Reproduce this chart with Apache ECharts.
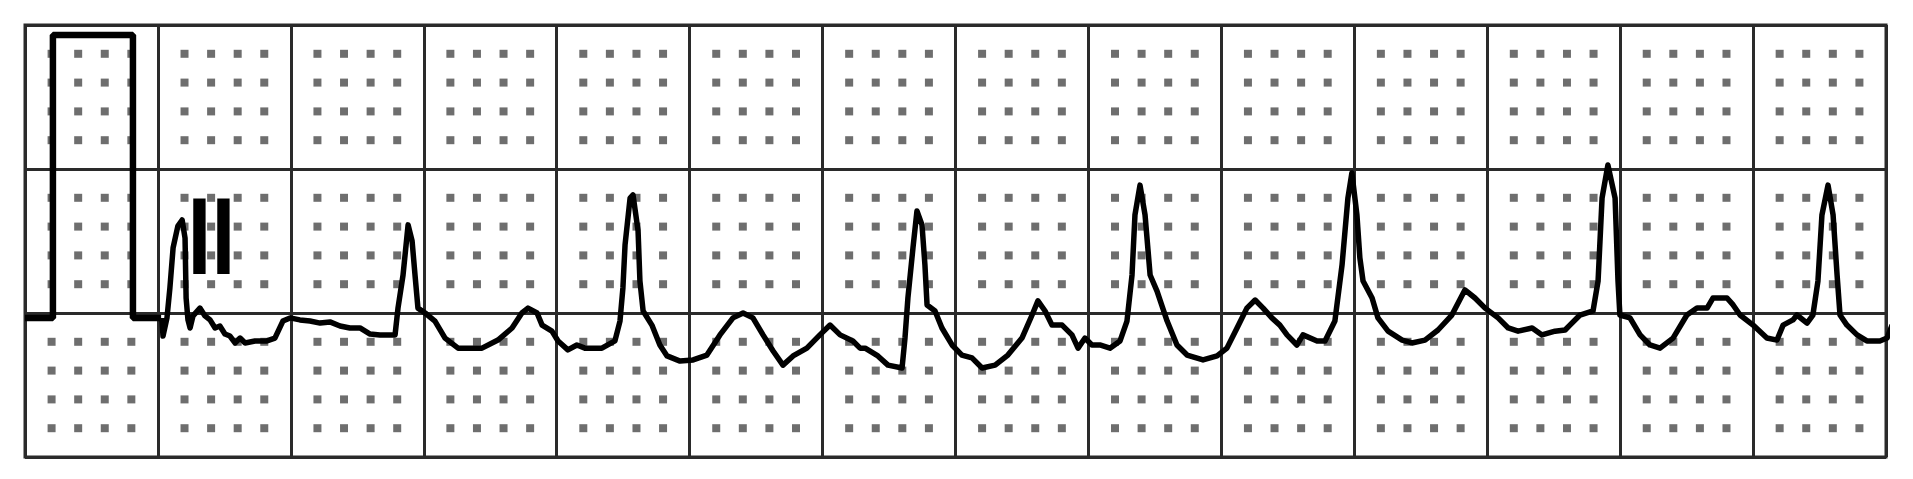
<!DOCTYPE html>
<html style="height: 100%">
<head>
    <meta charset="utf-8">
</head>
<body style="height: 100%; margin: 0; background: #fff">
<div id="container" style="width: 1913px; height: 479px"></div>

<script type="text/javascript" src="https://cdn.jsdelivr.net/npm/echarts@6/dist/echarts.min.js"></script>

<script type="text/javascript">
    // ECG strip, lead II. units are mm on the paper: x 1mm = 40ms, y 10mm = 1mV
    // baseline is y = 0

    // 1 mV calibration pulse at the start
    var calPulse = [[0, -0.17], [1.05, -0.17], [1.05, 9.65], [4.06, 9.65], [4.06, -0.17], [5.12, -0.17]];

    // the trace
    var trace = [
        [5.15, -0.17], [5.19, -0.8], [5.34, -0.17], [5.45, 0.87], [5.57, 2.26], [5.75, 3.02], [5.91, 3.23],
        [6.02, 2.6], [6.06, 0.52], [6.13, -0.24], [6.21, -0.52], [6.32, -0.1], [6.58, 0.17], [6.77, -0.1],
        [6.96, -0.24], [7.15, -0.52], [7.33, -0.45], [7.52, -0.73], [7.71, -0.8], [7.9, -1.04], [8.09, -0.87],
        [8.28, -1.04], [8.65, -0.97], [9.1, -0.97], [9.4, -0.87], [9.7, -0.28], [9.97, -0.17], [10.34, -0.24],
        [10.72, -0.28], [11.1, -0.35], [11.47, -0.31], [11.85, -0.45], [12.22, -0.52], [12.6, -0.52],
        [12.98, -0.73], [13.35, -0.76], [13.73, -0.76], [13.92, -0.76],
        [14.03, 0.17], [14.22, 1.32], [14.41, 3.06], [14.56, 2.5], [14.67, 1.32], [14.78, 0.17], [15.05, 0],
        [15.42, -0.28], [15.8, -0.87], [16.29, -1.22], [17.19, -1.22], [17.79, -0.94], [18.32, -0.52],
        [18.69, 0], [18.92, 0.17], [19.26, 0], [19.45, -0.42], [19.82, -0.63], [20.05, -0.97], [20.42, -1.28],
        [20.76, -1.11], [21.06, -1.22], [21.7, -1.22], [22.19, -0.97], [22.38, -0.28], [22.49, 0.87],
        [22.57, 2.36], [22.76, 3.99], [22.87, 4.1], [23.06, 2.85], [23.13, 1.11], [23.25, 0.07], [23.58, -0.42],
        [23.88, -1.11], [24.15, -1.49], [24.64, -1.67], [25.13, -1.63], [25.65, -1.46], [26.14, -0.76],
        [26.63, -0.17], [27.01, 0], [27.38, -0.17], [27.76, -0.76], [28.14, -1.32], [28.51, -1.81],
        [28.89, -1.49], [29.41, -1.22], [29.9, -0.76], [30.28, -0.42], [30.66, -0.76], [31.14, -0.97],
        [31.41, -1.22], [31.6, -1.22], [32.08, -1.49], [32.46, -1.81], [32.99, -1.91], [33.1, -0.87],
        [33.21, 0.52], [33.4, 2.26], [33.55, 3.54], [33.74, 3.06], [33.85, 1.67], [33.93, 0.28], [34.23, 0.07],
        [34.49, -0.52], [34.87, -1.11], [35.24, -1.46], [35.62, -1.56], [36.0, -1.91], [36.49, -1.81],
        [36.97, -1.46], [37.5, -0.87], [37.88, -0.07], [38.1, 0.42], [38.37, 0.07], [38.63, -0.42],
        [39.01, -0.42], [39.38, -0.76], [39.61, -1.22], [39.87, -0.87], [40.13, -1.11],
        [40.43, -1.11], [40.81, -1.22], [41.19, -0.97], [41.45, -0.28], [41.64, 1.32], [41.75, 3.4],
        [41.94, 4.44], [42.13, 3.4], [42.32, 1.32], [42.58, 0.76], [42.96, -0.28], [43.33, -1.11],
        [43.71, -1.46], [44.31, -1.63], [44.84, -1.49], [45.21, -1.22], [45.59, -0.52], [45.96, 0.17],
        [46.27, 0.45], [46.57, 0.17], [46.9, -0.17], [47.2, -0.42], [47.47, -0.76], [47.84, -1.11],
        [48.07, -0.76], [48.6, -0.97], [48.9, -0.97],
        [49.27, -0.28], [49.54, 1.67], [49.76, 3.99], [49.91, 4.86], [50.1, 3.4], [50.21, 1.91], [50.33, 1.11],
        [50.67, 0.52], [50.89, -0.17], [51.27, -0.63], [51.8, -0.94], [52.17, -1.04], [52.66, -0.94],
        [53.15, -0.59], [53.67, -0.07], [54.16, 0.8], [54.54, 0.52], [54.92, 0.17], [55.41, -0.17],
        [55.79, -0.52], [56.16, -0.63], [56.69, -0.52], [57.06, -0.76], [57.55, -0.63], [57.93, -0.59],
        [58.11, -0.42], [58.49, -0.07], [58.98, 0.07], [59.17, 1.11], [59.32, 3.99], [59.54, 5.14],
        [59.81, 3.99], [59.92, 1.11], [59.99, -0.07], [60.37, -0.17], [60.75, -0.76], [61.12, -1.11],
        [61.5, -1.22], [61.99, -0.87], [62.51, -0.07], [62.89, 0.17], [63.27, 0.17], [63.49, 0.52],
        [64.02, 0.52], [64.25, 0.28], [64.51, -0.07], [65.0, -0.42], [65.52, -0.87], [65.9, -0.94],
        [66.13, -0.42], [66.5, -0.24],
        [66.65, -0.07], [67.03, -0.35], [67.25, -0.07], [67.44, 1.11], [67.59, 3.4], [67.82, 4.44],
        [68.01, 3.4], [68.16, 1.32], [68.27, -0.07], [68.53, -0.42], [68.91, -0.76], [69.28, -0.97],
        [69.77, -0.97], [70.04, -0.87], [70.23, -0.42]
    ];

    var leadName = 'II';

    // paper: 14 big boxes wide, 3 high, dots on every 1mm crossing
    var paperX = [0, 70];
    var paperY = [-5, 10];

    var dots = [];
    for (var x = paperX[0] + 1; x < paperX[1]; x++) {
        if (x % 5 === 0) continue;
        for (var y = paperY[0] + 1; y < paperY[1]; y++) {
            if (y % 5 === 0) continue;
            dots.push([x, y]);
        }
    }

    var dom = document.getElementById('container');
    var myChart = echarts.init(dom, null, {renderer: 'canvas'});

    var gridLine = {show: true, lineStyle: {color: '#2a2a2a', width: 3}};

    var option = {
        animation: false,
        backgroundColor: '#fff',
        grid: {
            left: 25, right: 27, top: 25, bottom: 22,
            show: true, borderColor: '#2a2a2a', borderWidth: 3
        },
        xAxis: {
            type: 'value', min: paperX[0], max: paperX[1], interval: 5,
            axisLine: {show: false}, axisTick: {show: false}, axisLabel: {show: false},
            splitLine: gridLine
        },
        yAxis: {
            type: 'value', min: paperY[0], max: paperY[1], interval: 5,
            axisLine: {show: false}, axisTick: {show: false}, axisLabel: {show: false},
            splitLine: gridLine
        },
        graphic: [{
            type: 'text',
            x: 187.6, y: 189,
            scaleX: 0.78,
            z: 100,
            style: {
                text: leadName,
                x: 0, y: 0,
                align: 'left', verticalAlign: 'top',
                fill: '#000',
                font: 'bold 110px "Liberation Sans"'
            }
        }],
        series: [
            {
                type: 'scatter',
                data: dots,
                symbol: 'rect',
                symbolSize: [8, 8],
                itemStyle: {color: '#4a4a4a'},
                silent: true,
                z: 1
            },
            {
                type: 'line',
                data: calPulse,
                showSymbol: false,
                lineStyle: {color: '#000', width: 6.5},
                silent: true,
                z: 3
            },
            {
                type: 'line',
                data: trace,
                showSymbol: false,
                clip: false,
                lineStyle: {color: '#000', width: 5.5, join: 'round'},
                silent: true,
                z: 3
            }
        ]
    };

    myChart.setOption(option);
    window.addEventListener('resize', myChart.resize);
</script>
</body>
</html>
